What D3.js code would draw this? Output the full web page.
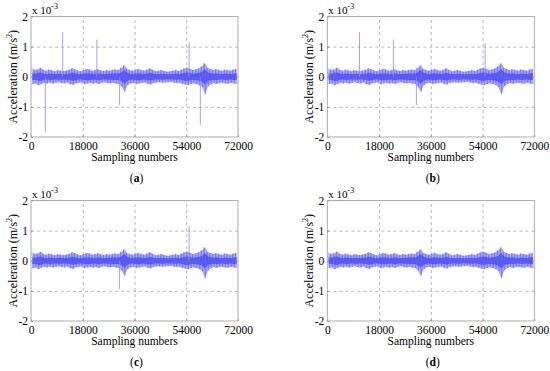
<!DOCTYPE html>
<html>
<head>
<meta charset="utf-8">
<script src="https://cdn.jsdelivr.net/npm/d3@7"></script>
<style>
	body { margin: 0; background: #fff; }
	text { font-family: "Liberation Serif", "DejaVu Serif", serif; fill: #000; }
	.grid line { stroke: #9a9a9a; stroke-dasharray: 3,3; stroke-width: 0.7; }
	.grid .domain { display: none; }
	.axis .domain { display: none; }
	.axis line { stroke: #8a8a8a; stroke-width: 0.7; }
</style>
</head>
<body>
<svg id="chart" width="550" height="371"></svg>
<script>
// tick values and labels
var xTicks = [0, 18000, 36000, 54000, 72000];
var yTicks = [-2, -1, 0, 1, 2];
var panelLabels = ["a", "b", "c", "d"];

// noise envelope per 1000-sample bin (x 10^-3 m/s^2)
var noiseHi = [0.28, 0.22, 0.25, 0.30, 0.22, 0.20, 0.24, 0.21, 0.18, 0.22, 0.20, 0.19,
	0.21, 0.23, 0.28, 0.25, 0.20, 0.18, 0.22, 0.26, 0.24, 0.20, 0.22, 0.25,
	0.21, 0.19, 0.22, 0.20, 0.23, 0.24, 0.22, 0.30, 0.38, 0.26, 0.22, 0.20,
	0.23, 0.26, 0.22, 0.20, 0.24, 0.28, 0.22, 0.18, 0.20, 0.22, 0.19, 0.17,
	0.18, 0.20, 0.22, 0.19, 0.24, 0.28, 0.30, 0.26, 0.22, 0.25, 0.28, 0.35,
	0.45, 0.30, 0.26, 0.22, 0.25, 0.22, 0.20, 0.24, 0.22, 0.20, 0.24, 0.26];
var noiseLo = [-0.25, -0.22, -0.28, -0.24, -0.20, -0.22, -0.19, -0.23, -0.20, -0.18, -0.21, -0.22,
	-0.19, -0.24, -0.27, -0.22, -0.20, -0.19, -0.25, -0.22, -0.20, -0.23, -0.21, -0.24,
	-0.20, -0.18, -0.21, -0.22, -0.20, -0.23, -0.24, -0.32, -0.50, -0.28, -0.22, -0.20,
	-0.24, -0.22, -0.21, -0.19, -0.23, -0.26, -0.21, -0.19, -0.18, -0.20, -0.19, -0.18,
	-0.17, -0.19, -0.21, -0.20, -0.23, -0.26, -0.28, -0.24, -0.22, -0.24, -0.27, -0.34,
	-0.58, -0.32, -0.25, -0.21, -0.24, -0.21, -0.20, -0.22, -0.23, -0.20, -0.22, -0.25];
var noiseCore = [0.12, 0.10, 0.13, 0.14, 0.10, 0.09, 0.11, 0.10, 0.09, 0.10, 0.10, 0.09,
	0.10, 0.11, 0.13, 0.12, 0.09, 0.09, 0.11, 0.12, 0.11, 0.10, 0.10, 0.12,
	0.10, 0.09, 0.10, 0.10, 0.11, 0.11, 0.11, 0.15, 0.22, 0.13, 0.10, 0.10,
	0.11, 0.12, 0.10, 0.09, 0.11, 0.13, 0.10, 0.09, 0.09, 0.10, 0.09, 0.08,
	0.09, 0.09, 0.10, 0.09, 0.11, 0.13, 0.14, 0.12, 0.10, 0.12, 0.13, 0.17,
	0.25, 0.15, 0.12, 0.10, 0.12, 0.10, 0.09, 0.11, 0.10, 0.09, 0.11, 0.12];

// isolated spikes: [sample, value]
var spikesA = [[5000, -1.85], [11000, 1.48], [22900, 1.23], [30800, -0.93], [55000, 1.15], [58900, -1.6]];
var spikesB = [[11200, 1.48], [23000, 1.23], [31000, -0.95], [54900, 1.12]];
var spikesC = [[30800, -0.93], [55000, 1.15]];
var spikesD = [];

(function () {
	var svg = d3.select("#chart");
	var width = 207, height = 120.5;
	var origins = [[31, 16.5], [327.3, 16.5], [31, 200.5], [327.3, 200.5]];
	var spikes = [spikesA, spikesB, spikesC, spikesD];

	var x = d3.scaleLinear().domain([0, 72000]).range([0, width]);
	var y = d3.scaleLinear().domain([-2, 2]).range([height, 0]);

	var line = d3.line()
		.x(function (d) { return x(d[0]); })
		.y(function (d) { return y(d[1]); });

	var band = d3.area()
		.x(function (d, i) { return x(i * 1000 + 500); })
		.y0(function (d, i) { return y(noiseLo[i]); })
		.y1(function (d) { return y(d); });

	var coreBand = d3.area()
		.x(function (d, i) { return x(i * 1000 + 500); })
		.y0(function (d) { return y(-d); })
		.y1(function (d) { return y(d); });

	// zigzag between top and bottom of each bin, for texture
	var zig = [];
	noiseHi.forEach(function (v, i) {
		zig.push([i * 1000 + 200, v]);
		zig.push([i * 1000 + 700, noiseLo[i]]);
	});

	origins.forEach(function (o, p) {
		var g = svg.append("g").attr("transform", "translate(" + o[0] + "," + o[1] + ")");

		// grid
		g.append("g")
			.attr("class", "grid")
			.attr("transform", "translate(0," + height + ")")
			.call(d3.axisBottom(x).tickValues([18000, 36000, 54000]).tickSize(-height).tickFormat(""));
		g.append("g")
			.attr("class", "grid")
			.call(d3.axisLeft(y).tickValues([-1, 0, 1]).tickSize(-width).tickFormat(""));

		// signal
		g.append("path")
			.datum(noiseHi)
			.attr("fill", "#a8a8ff")
			.attr("d", band);
		g.append("path")
			.datum(noiseCore)
			.attr("fill", "#6464f6")
			.attr("d", coreBand);
		g.append("path")
			.datum(zig)
			.attr("fill", "none")
			.attr("stroke", "#3434ee")
			.attr("stroke-opacity", 0.55)
			.attr("stroke-width", 0.5)
			.attr("d", line);

		g.selectAll(".spike")
			.data(spikes[p])
			.enter().append("line")
			.attr("class", "spike")
			.attr("x1", function (d) { return x(d[0]); })
			.attr("x2", function (d) { return x(d[0]); })
			.attr("y1", y(0))
			.attr("y2", function (d) { return y(d[1]); })
			.attr("stroke", "#8c8cff")
			.attr("stroke-width", 0.8);

		// box
		g.append("rect")
			.attr("width", width)
			.attr("height", height)
			.attr("fill", "none")
			.attr("stroke", "#9a9a9a")
			.attr("stroke-width", 0.8);

		// axes
		g.append("g")
			.attr("class", "axis")
			.attr("transform", "translate(0," + height + ")")
			.call(d3.axisBottom(x).tickValues(xTicks).tickSize(-2).tickPadding(5).tickFormat(d3.format("d")))
			.selectAll("text")
			.style("font-size", "11.5px");
		g.append("g")
			.attr("class", "axis")
			.call(d3.axisLeft(y).tickValues(yTicks).tickSize(-2).tickPadding(3).tickFormat(function (d) { return d; }))
			.selectAll("text")
			.style("font-size", "11.5px");

		// x 10^-3
		var exp = g.append("text")
			.attr("x", 1)
			.attr("y", -3)
			.style("font-size", "11px");
		exp.append("tspan").text("x 10");
		exp.append("tspan").attr("dy", -5).style("font-size", "8px").text("-3");

		g.append("text")
			.attr("x", width / 2)
			.attr("y", height + 24)
			.attr("text-anchor", "middle")
			.style("font-size", "11.5px")
			.text("Sampling numbers");

		var yl = g.append("text")
			.attr("transform", "rotate(-90)")
			.attr("x", -height / 2)
			.attr("y", -14)
			.attr("text-anchor", "middle")
			.style("font-size", "12px");
		yl.append("tspan").text("Acceleration (m/s");
		yl.append("tspan").attr("dy", -5).style("font-size", "8px").text("2");
		yl.append("tspan").attr("dy", 5).text(")");

		var lab = g.append("text")
			.attr("x", width / 2 + 2)
			.attr("y", height + 45)
			.attr("text-anchor", "middle")
			.style("font-size", "11.5px");
		lab.append("tspan").text("(");
		lab.append("tspan").style("font-weight", "bold").text(panelLabels[p]);
		lab.append("tspan").text(")");
	});
}) ();
</script>
</body>
</html>
